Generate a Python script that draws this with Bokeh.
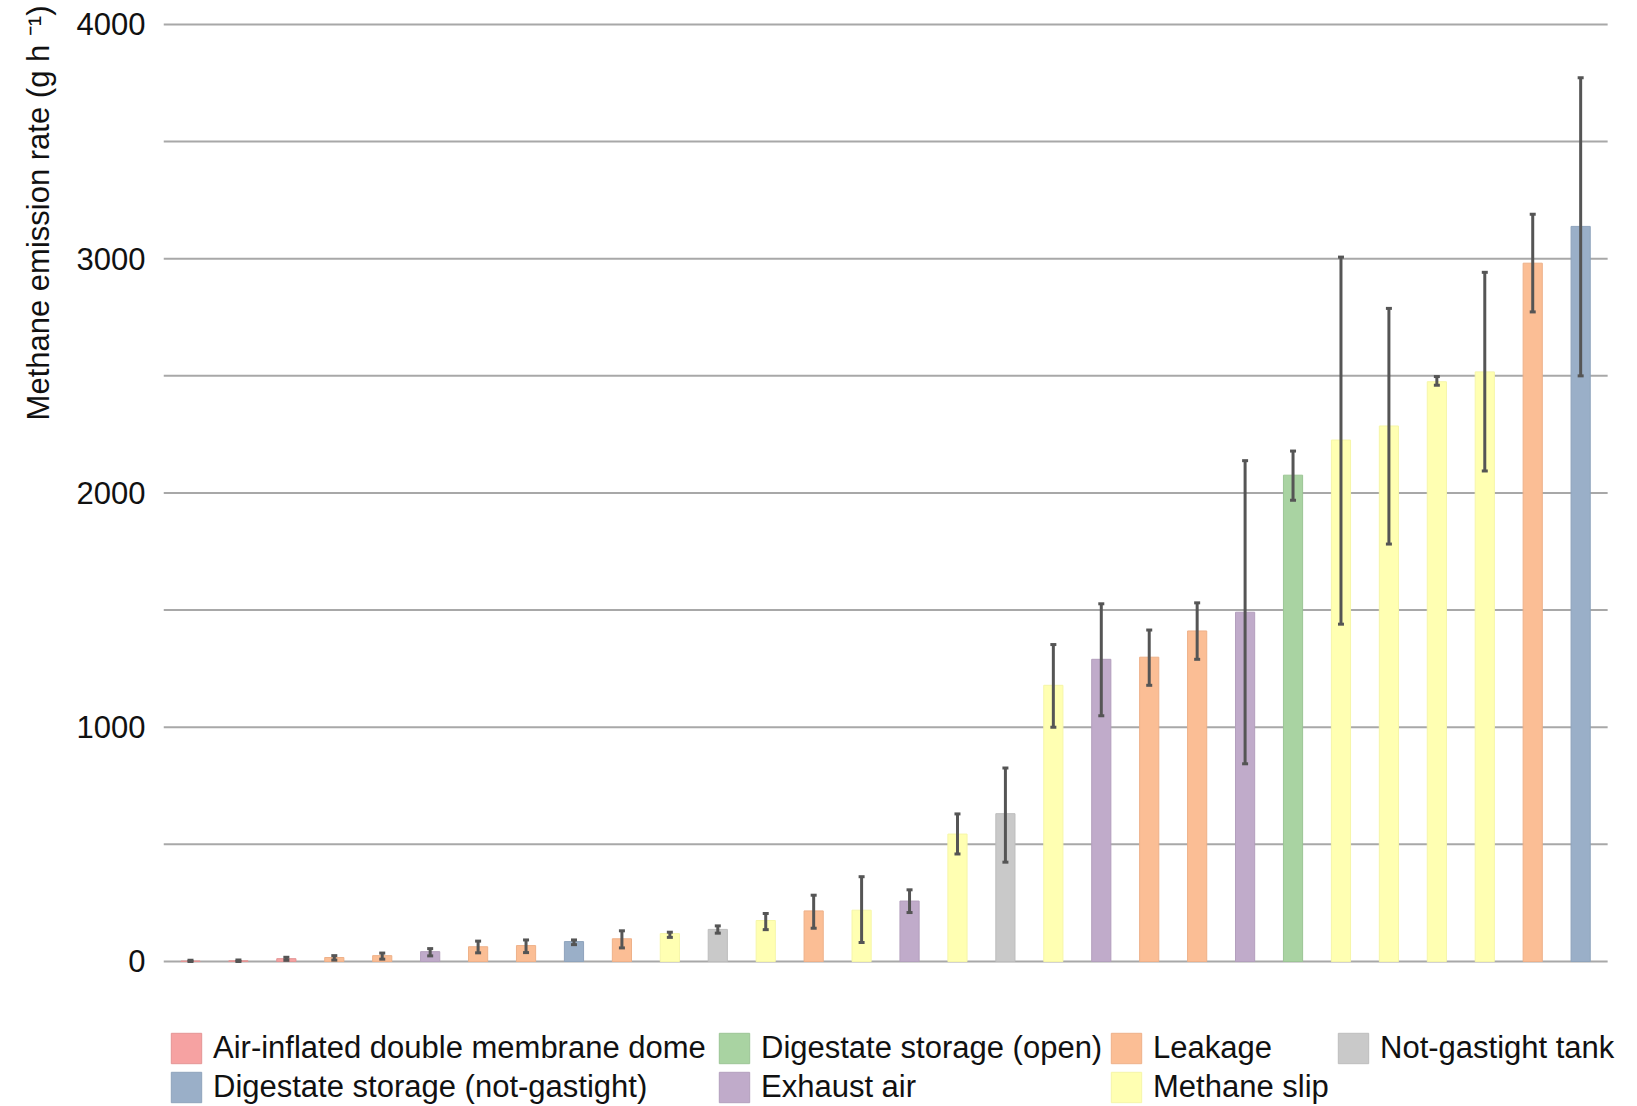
from bokeh.plotting import figure
from bokeh.models import (ColumnDataSource, Whisker, TeeHead, Legend, LegendItem,
                          Title, FixedTicker, Range1d)
from bokeh.embed import file_html
from bokeh.resources import INLINE

AIR = "Air-inflated double membrane dome"
DNG = "Digestate storage (not-gastight)"
DOP = "Digestate storage (open)"
EXH = "Exhaust air"
LEA = "Leakage"
MSL = "Methane slip"
NGT = "Not-gastight tank"

categories = [AIR, AIR, AIR, LEA, LEA, EXH, LEA, LEA, DNG, LEA,
              MSL, NGT, MSL, LEA, MSL, EXH, MSL, NGT, MSL, EXH,
              LEA, LEA, EXH, DOP, MSL, MSL, MSL, MSL, LEA, DNG]
values = [2, 3, 12, 17, 25, 42, 63, 68, 85, 97,
          119, 137, 175, 216, 219, 258, 544, 631, 1179, 1290,
          1299, 1411, 1491, 2076, 2226, 2286, 2475, 2517, 2981, 3138]
err_low = [0, 0, 5, 6, 10, 24, 37, 38, 72, 58,
           103, 121, 136, 142, 81, 209, 459, 424, 1000, 1049,
           1179, 1290, 844, 1969, 1440, 1782, 2460, 2094, 2773, 2500]
err_high = [5, 6, 18, 25, 36, 55, 87, 92, 92, 131,
            125, 152, 205, 283, 362, 306, 630, 826, 1353, 1527,
            1415, 1531, 2138, 2179, 3007, 2788, 2497, 2942, 3190, 3773]
y_ticks = [0, 1000, 2000, 3000, 4000]
grid_ticks = [0, 500, 1000, 1500, 2000, 2500, 3000, 3500, 4000]

legend_order = [[AIR, DNG], [DOP, EXH], [LEA, MSL], [NGT]]
colors = {AIR: "#f6a2a2", DNG: "#9aafc8", DOP: "#a9d3a2", EXH: "#c0abca",
          LEA: "#fbbe95", MSL: "#ffffb2", NGT: "#c9c9c9"}
edge = {AIR: "#e49494", DNG: "#8ea3bc", DOP: "#9cc595", EXH: "#b39fbd",
        LEA: "#eeb189", MSL: "#f6f6a8", NGT: "#bdbdbd"}

n = len(values)
W, H = 1621, 1106
FRAME_LEFT = 162
cat_px = 47.97                 # pixels per category
x_start = 1 - 27 / cat_px      # first bar centre 27 px right of the frame edge
x_end = x_start + (W - FRAME_LEFT) / cat_px
p = figure(width=W, height=H, output_backend="svg", toolbar_location=None,
           x_range=Range1d(x_start, x_end), y_range=Range1d(-619, 4017),
           min_border_left=FRAME_LEFT, min_border_right=0, min_border_top=20,
           min_border_bottom=0)
p.outline_line_color = None
p.background_fill_color = "white"
p.border_fill_color = "white"

# horizontal grid lines across the category span
gx1 = n + 1 - x_start
p.segment(x0=[x_start] * len(grid_ticks), x1=[gx1] * len(grid_ticks),
          y0=grid_ticks, y1=grid_ticks, line_color="#a8a8a8", line_width=2,
          level="underlay")

xs = list(range(1, n + 1))
renderers = {}
for cat in colors:
    idx = [i for i, c in enumerate(categories) if c == cat]
    src = ColumnDataSource(dict(x=[xs[i] for i in idx], top=[values[i] for i in idx]))
    r = p.vbar(x="x", top="top", width=0.4, bottom=0, source=src,
               fill_color=colors[cat], line_color=edge[cat], line_width=1)
    renderers[cat] = r

esrc = ColumnDataSource(dict(x=xs, lower=err_low, upper=err_high))
wh = Whisker(base="x", lower="lower", upper="upper", source=esrc, level="overlay",
             line_color="#555555", line_width=3,
             upper_head=TeeHead(size=6, line_color="#555555", line_width=3),
             lower_head=TeeHead(size=6, line_color="#555555", line_width=3))
p.add_layout(wh)

p.xaxis.visible = False
p.xgrid.grid_line_color = None
p.ygrid.grid_line_color = None

ya = p.yaxis[0]
ya.ticker = FixedTicker(ticks=y_ticks)
ya.axis_line_color = None
ya.major_tick_line_color = None
ya.minor_tick_line_color = None
ya.major_tick_out = 0
ya.major_tick_in = 0
ya.minor_tick_out = 0
ya.minor_tick_in = 0
ya.major_label_standoff = 18
ya.major_label_text_font = "Liberation Sans"
ya.major_label_text_font_size = "31px"
ya.major_label_text_color = "#111111"

ytitle = Title(text="Methane emission rate (g h \u207b\u00b9)", align="right",
               offset=-15, standoff=36, text_font="Liberation Sans",
               text_font_size="31px", text_font_style="normal", text_color="#111111",
               text_line_height=0.8)
p.add_layout(ytitle, "left")

offsets = [4, 552, 944, 1171]
for off, cats in zip(offsets, legend_order):
    yoff = 39 * (2 - len(cats))
    leg = Legend(items=[LegendItem(label=c, renderers=[renderers[c]]) for c in cats],
                 location=(off, yoff), orientation="vertical",
                 glyph_width=38, glyph_height=38, spacing=1, padding=0, margin=0,
                 label_standoff=8, label_text_font="Liberation Sans",
                 label_text_font_size="31px", label_text_color="#111111",
                 border_line_color=None, background_fill_alpha=0)
    p.add_layout(leg)

open("out.html", "w").write(file_html(p, INLINE))
